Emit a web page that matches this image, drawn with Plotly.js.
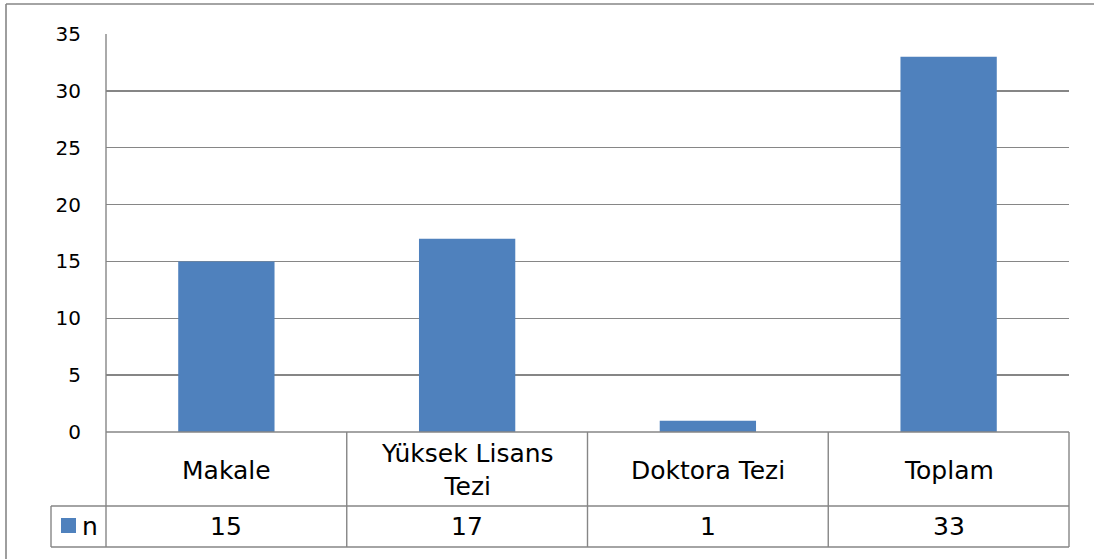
<!DOCTYPE html>
<html>
<head>
<meta charset="utf-8">
<script src="https://cdn.plot.ly/plotly-3.0.1.min.js"></script>
<style>html,body{margin:0;padding:0;background:#fff;}#chart{width:1094px;height:559px;}</style>
</head>
<body>
<div id="chart"></div>
<script>
// ---- data ----
const categories = ['Makale', 'Yüksek Lisans<br>Tezi', 'Doktora Tezi', 'Toplam'];
const values = [15, 17, 1, 33];
const seriesName = 'n';
const yTickVals = [0, 5, 10, 15, 20, 25, 30, 35];

// ---- layout geometry (pixels) ----
const W = 1094, H = 559;
const L = 106, R = 1069, T = 34, B = 432;
const pw = R - L, ph = B - T;
const px = x => (x - L) / pw;      // pixel x -> paper x
const py = y => (B - y) / ph;      // pixel y -> paper y

const gridColor = '#868686';
const barColor = '#4F81BD';
const font = 'DejaVu Sans, Verdana, sans-serif';

const headerBottom = 506, tableBottom = 547, legendLeft = 51;

const shapes = [];
function line(x0, y0, x1, y1, w) {
  shapes.push({type: 'line', xref: 'paper', yref: 'paper',
    x0: px(x0), y0: py(y0), x1: px(x1), y1: py(y1),
    line: {color: gridColor, width: w || 1.4}, layer: 'above'});
}
// outer chart border (clipped by page at right/bottom)
line(6, 4, 1096, 4, 1.6);
line(6, 4, 6, 562, 1.6);
// left axis line extended through table
line(L, T, L, tableBottom);
// column boundaries
const nCat = categories.length;
for (let i = 1; i <= nCat; i++) {
  const x = L + pw * i / nCat;
  line(x, B, x, tableBottom);
}
// table horizontal lines
line(L, B, R, B);
line(legendLeft, headerBottom, R, headerBottom);
line(legendLeft, tableBottom, R, tableBottom);
line(legendLeft, headerBottom, legendLeft, tableBottom);
// legend swatch
shapes.push({type: 'rect', xref: 'paper', yref: 'paper',
  x0: px(61), x1: px(76), y0: py(518), y1: py(533),
  fillcolor: barColor, line: {width: 0}, layer: 'above'});

const annotations = [];
categories.forEach((c, i) => {
  annotations.push({x: c, xref: 'x', y: py((B + headerBottom) / 2 + 1), yref: 'paper',
    text: c, showarrow: false, xanchor: 'center', yanchor: 'middle',
    font: {family: font, size: 25, color: '#000'}});
  annotations.push({x: c, xref: 'x', y: py((headerBottom + tableBottom) / 2), yref: 'paper',
    text: String(values[i]), showarrow: false, xanchor: 'center', yanchor: 'middle',
    font: {family: font, size: 25, color: '#000'}});
});
annotations.push({x: px(80), xref: 'paper', y: py((headerBottom + tableBottom) / 2), yref: 'paper',
  text: seriesName, showarrow: false, xanchor: 'left', yanchor: 'middle',
  font: {family: font, size: 25, color: '#000'}});

const trace = {
  type: 'bar', x: categories, y: values, name: seriesName,
  marker: {color: barColor, line: {width: 0}},
  width: 0.4, hoverinfo: 'x+y'
};

const layout = {
  width: W, height: H,
  margin: {l: L, r: W - R, t: T, b: H - B, pad: 0},
  paper_bgcolor: '#fff', plot_bgcolor: '#fff',
  showlegend: false,
  font: {family: font, color: '#000'},
  xaxis: {type: 'category', range: [-0.5, nCat - 0.5], showticklabels: false,
    showgrid: false, zeroline: false, showline: false, ticks: '', fixedrange: true},
  yaxis: {range: [0, 35], tickvals: yTickVals, showgrid: true, gridcolor: gridColor,
    gridwidth: 1.4, zeroline: false, showline: false, ticks: '',
    ticklabelstandoff: 24, tickfont: {family: font, size: 20, color: '#000'}, fixedrange: true},
  shapes: shapes,
  annotations: annotations
};

Plotly.newPlot('chart', [trace], layout, {displayModeBar: false, staticPlot: true});
</script>
</body>
</html>
